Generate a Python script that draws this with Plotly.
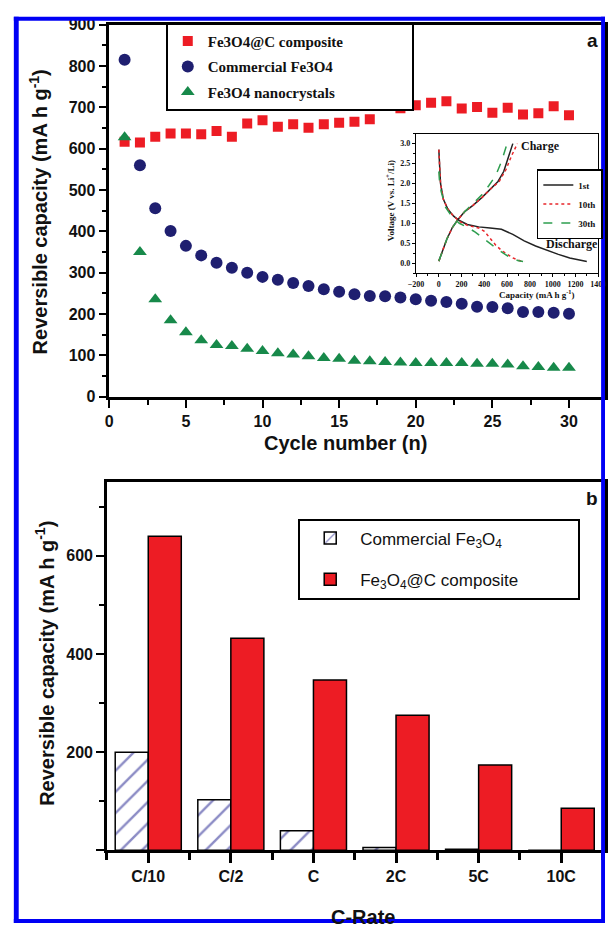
import plotly.graph_objects as go

W, H = 613, 932

# ---------------- data: panel (a) ----------------
cycles = list(range(1, 31))
composite = [617, 615, 629, 637, 637, 635, 643, 629, 661, 669, 653, 659, 651, 659, 663,
             665, 671, 706, 698, 705, 711, 715, 697, 701, 687, 699, 683, 686, 703, 681]
commercial = [815, 560, 456, 401, 365, 342, 324, 312, 300, 290, 283, 275, 268, 260, 254,
              248, 244, 243, 240, 236, 232, 229, 225, 218, 217, 214, 205, 205, 203, 201]
nanocrystals = [628, 350, 236, 185, 156, 137, 125, 123, 116, 111, 105, 102, 98, 94, 92,
                87, 86, 84, 83, 82, 82, 82, 82, 80, 80, 78, 74, 72, 70, 70]

# ---------------- data: inset voltage profiles ----------------
dis1_cap = [0, 5, 15, 40, 80, 130, 180, 250, 350, 450, 550, 650, 750, 850, 950, 1050, 1150, 1300]
dis1_v = [2.85, 2.4, 2.0, 1.6, 1.35, 1.18, 1.07, 0.97, 0.91, 0.88, 0.85, 0.72, 0.56, 0.43, 0.32, 0.22, 0.13, 0.04]
chg1_cap = [0, 30, 70, 120, 170, 230, 300, 380, 450, 520, 570, 610, 650]
chg1_v = [0.05, 0.3, 0.6, 0.9, 1.1, 1.3, 1.45, 1.65, 1.85, 2.05, 2.3, 2.65, 3.0]

dis10_cap = [0, 5, 15, 40, 80, 130, 180, 250, 350, 400, 450, 500, 550, 600, 650, 700, 750]
dis10_v = [2.85, 2.4, 2.0, 1.6, 1.35, 1.18, 1.05, 0.95, 0.88, 0.8, 0.62, 0.45, 0.32, 0.22, 0.13, 0.07, 0.04]
chg10_cap = [0, 30, 70, 120, 170, 230, 300, 380, 450, 530, 590, 640, 690]
chg10_v = [0.05, 0.3, 0.6, 0.9, 1.1, 1.3, 1.45, 1.65, 1.85, 2.05, 2.35, 2.7, 3.0]

dis30_cap = [0, 5, 20, 60, 120, 180, 250, 320, 400, 480, 550, 620, 700, 740]
dis30_v = [2.3, 2.1, 1.8, 1.4, 1.15, 1.0, 0.9, 0.78, 0.6, 0.42, 0.28, 0.15, 0.06, 0.04]
chg30_cap = [0, 30, 70, 120, 170, 230, 300, 380, 440, 500, 550, 600]
chg30_v = [0.05, 0.3, 0.6, 0.9, 1.1, 1.3, 1.5, 1.72, 1.95, 2.2, 2.55, 3.0]

# ---------------- data: panel (b) ----------------
rates = ["C/10", "C/2", "C", "2C", "5C", "10C"]
commercial_rate = [200, 103, 40, 6, 2, 0]
composite_rate = [640, 432, 347, 275, 174, 86]

SANS = "Liberation Sans, Arial, sans-serif"
SERIF = "Liberation Serif, Times New Roman, serif"
RED = "#ED1C24"
NAVY = "#1F1F70"
GREEN = "#17894A"
NB = "\u00a0"


def px_x(p):
    return p / W


def px_y(p):
    return 1 - p / H


def clip(v):
    return min(1.0, max(0.0, v))


fig = go.Figure()

# panel (a) scatter
fig.add_trace(go.Scatter(x=cycles, y=composite, mode="markers", name="Fe3O4@C composite" + NB * 17,
                         marker=dict(symbol="square", size=10, color=RED),
                         xaxis="x", yaxis="y", legend="legend", legendgroup="a1"))
fig.add_trace(go.Scatter(x=cycles, y=commercial, mode="markers", name="Commercial Fe3O4",
                         marker=dict(symbol="circle", size=12, color=NAVY),
                         xaxis="x", yaxis="y", legend="legend", legendgroup="a2"))
fig.add_trace(go.Scatter(x=cycles, y=nanocrystals, mode="markers", name="Fe3O4 nanocrystals",
                         marker=dict(symbol="triangle-up", size=12, color=GREEN),
                         xaxis="x", yaxis="y", legend="legend", legendgroup="a3"))

# inset lines
inset_sets = [
    ("1st", dis1_cap, dis1_v, chg1_cap, chg1_v, "#222222", "solid"),
    ("10th", dis10_cap, dis10_v, chg10_cap, chg10_v, "#E8262B", "dot"),
    ("30th", dis30_cap, dis30_v, chg30_cap, chg30_v, "#2E9E4F", "dash"),
]
for i, (nm, dc, dv, cc, cv, col, dash) in enumerate(inset_sets):
    fig.add_trace(go.Scatter(x=dc, y=dv, mode="lines", name=nm,
                             line=dict(color=col, width=1.5, dash=dash),
                             xaxis="x2", yaxis="y2", legend="legend2", legendgroup="i%d" % i))
    fig.add_trace(go.Scatter(x=cc, y=cv, mode="lines", name=nm, showlegend=False,
                             line=dict(color=col, width=1.5, dash=dash),
                             xaxis="x2", yaxis="y2", legend="legend2", legendgroup="i%d" % i))

# panel (b) bars
xpos = list(range(len(rates)))
fig.add_trace(go.Bar(x=xpos, y=commercial_rate,
                     name="Commercial Fe<sub>3</sub>O<sub>4</sub>" + NB * 15,
                     marker=dict(color="white", line=dict(color="black", width=1.5),
                                 pattern=dict(shape="/", fgcolor="#1A1A8C", bgcolor="white",
                                              size=15, solidity=0.16)),
                     xaxis="x3", yaxis="y3", legend="legend3", legendgroup="b1"))
fig.add_trace(go.Bar(x=xpos, y=composite_rate, name="Fe<sub>3</sub>O<sub>4</sub>@C composite",
                     marker=dict(color=RED, line=dict(color="black", width=1.5)),
                     xaxis="x3", yaxis="y3", legend="legend3", legendgroup="b2"))

axis_common = dict(showline=True, linecolor="black", mirror=True, showgrid=False,
                   zeroline=False, ticks="outside", tickcolor="black")

tick_font = dict(family=SANS, size=16, color="#111", weight="bold")
inset_font = dict(family=SERIF, size=8, color="#111", weight="bold")

fig.update_layout(
    width=W, height=H,
    margin=dict(l=0, r=0, t=0, b=0),
    paper_bgcolor="white", plot_bgcolor="white",
    barmode="group", bargap=0.2, bargroupgap=0,
    xaxis=dict(domain=[px_x(104), 1], range=[0, 32.35], anchor="y",
               tickmode="linear", tick0=0, dtick=5, ticklen=8, tickwidth=2, linewidth=2.5,
               minor=dict(dtick=2.5, tick0=0, ticklen=5, tickwidth=2, ticks="outside", tickcolor="black"),
               tickfont=tick_font, **axis_common),
    yaxis=dict(domain=[px_y(396), px_y(17)], range=[0, 900], anchor="x",
               tickmode="linear", tick0=0, dtick=100, ticklen=8, tickwidth=2, linewidth=2.5,
               minor=dict(dtick=50, tick0=0, ticklen=5, tickwidth=2, ticks="outside", tickcolor="black"),
               tickfont=tick_font, **axis_common),
    xaxis2=dict(domain=[px_x(419), px_x(606)], range=[-200, 1400], anchor="y2",
                tickmode="linear", tick0=0, dtick=200, ticklen=3, tickwidth=1, linewidth=1.2,
                minor=dict(dtick=100, tick0=0, ticklen=2, tickwidth=1, ticks="outside", tickcolor="black"),
                tickfont=inset_font, **axis_common),
    yaxis2=dict(domain=[px_y(270), px_y(128)], range=[-0.25, 3.25], anchor="x2",
                tickmode="linear", tick0=0, dtick=0.5, tickformat=".1f", ticklen=3, tickwidth=1,
                linewidth=1.2,
                minor=dict(dtick=0.25, tick0=0, ticklen=2, tickwidth=1, ticks="outside", tickcolor="black"),
                tickfont=inset_font, **axis_common),
    xaxis3=dict(domain=[px_x(101.6), 1], range=[-0.5, 5.53], anchor="y3",
                tickmode="array", tickvals=xpos, ticktext=rates, ticklen=10, tickwidth=2.5,
                linewidth=2.5,
                minor=dict(tickmode="linear", tick0=-0.5, dtick=1, ticklen=7, tickwidth=2.5,
                           ticks="outside", tickcolor="black"),
                tickfont=tick_font, **axis_common),
    yaxis3=dict(domain=[px_y(858), px_y(483)], range=[0, 750], anchor="x3",
                tickmode="array", tickvals=[0, 200, 400, 600], ticktext=["", "200", "400", "600"],
                ticklen=8, tickwidth=2, linewidth=2.5,
                minor=dict(tickmode="linear", tick0=0, dtick=100, ticklen=5, tickwidth=2,
                           ticks="outside", tickcolor="black"),
                tickfont=tick_font, **axis_common),
    legend=dict(x=px_x(162), y=px_y(15), xanchor="left", yanchor="top",
                bordercolor="black", borderwidth=2, bgcolor="white",
                font=dict(family=SERIF, size=15, color="#111", weight="bold"),
                tracegroupgap=3, itemwidth=30),
    legend2=dict(x=px_x(543), y=px_y(164), xanchor="left", yanchor="top",
                 bordercolor="black", borderwidth=1.5, bgcolor="white",
                 font=dict(family=SERIF, size=9, color="#111", weight="bold"),
                 tracegroupgap=0, itemwidth=30),
    legend3=dict(x=px_x(298), y=px_y(520), xanchor="left", yanchor="top",
                 bordercolor="black", borderwidth=2, bgcolor="white",
                 font=dict(family=SANS, size=17, color="#111"),
                 tracegroupgap=16, itemwidth=50),
)

title_font = dict(family=SANS, size=20, color="#111", weight="bold")
annos = [
    dict(text="Reversible capacity (mA h g<sup>-1</sup>)", x=px_x(31), y=px_y(208), textangle=-90,
         font=title_font),
    dict(text="Cycle number (n)", x=px_x(347), y=px_y(443), font=title_font),
    dict(text="Reversible capacity (mA h g<sup>-1</sup>)", x=px_x(38), y=px_y(668), textangle=-90,
         font=title_font),
    dict(text="C-Rate", x=px_x(365), y=px_y(926), font=title_font),
    dict(text="a", x=px_x(600), y=px_y(33), font=dict(family=SANS, size=19, color="#111", weight="bold")),
    dict(text="b", x=px_x(600), y=px_y(500), font=dict(family=SANS, size=19, color="#111", weight="bold")),
    dict(text="Voltage (V vs. Li<sup>+</sup>/Li)", x=px_x(393), y=px_y(196), textangle=-90,
         font=dict(family=SERIF, size=9, color="#111", weight="bold")),
    dict(text="Capacity (mA h g<sup>-1</sup>)", x=px_x(543), y=px_y(291),
         font=dict(family=SERIF, size=9, color="#111", weight="bold")),
    dict(text="Charge", x=px_x(547), y=px_y(141),
         font=dict(family=SERIF, size=12, color="#111", weight="bold")),
    dict(text="Discharge", x=px_x(579), y=px_y(240),
         font=dict(family=SERIF, size=12, color="#111", weight="bold")),
]
for a in annos:
    a.update(xref="paper", yref="paper", showarrow=False, xanchor="center", yanchor="middle")
fig.update_layout(annotations=annos)

# blue frame (reference pixel boxes)
BLUE = "#0000F5"
frame = [(6, 9, 11, 932), (6, 9, 613, 13), (609, 9, 613, 932), (6, 928, 613, 932)]
shapes = []
for x0, y0, x1, y1 in frame:
    shapes.append(dict(type="rect", xref="paper", yref="paper",
                       x0=clip(px_x(x0)), x1=clip(px_x(x1)),
                       y0=clip(px_y(y1)), y1=clip(px_y(y0)),
                       fillcolor=BLUE, line=dict(width=0), layer="above"))
fig.update_layout(shapes=shapes)

fig.write_html("out.html", config={"displayModeBar": False},
               post_script="document.body.style.margin='0';document.body.style.padding='0';"
                           "document.documentElement.style.overflow='hidden';")
